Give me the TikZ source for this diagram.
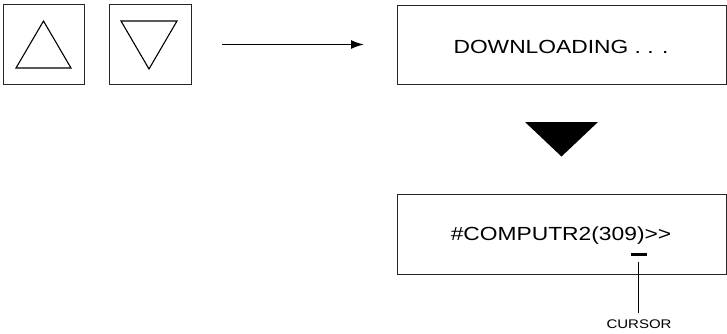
\documentclass[tikz,border=0pt]{standalone}
\usepackage{fontspec}
\setmainfont{Liberation Sans}
\usetikzlibrary{arrows.meta}
\tikzset{
  panel/.style={draw=black!85, line width=1pt, inner sep=0pt, anchor=north west},
  bigtext/.style={font=\fontsize{19}{22}\selectfont, xscale=1.2, transform shape=false},
  glyph/.style={draw=black, line width=1.1pt, line join=miter},
}
\newcommand{\wide}[1]{\scalebox{1.2}[1]{#1}}
\begin{document}
\begin{tikzpicture}[x=1pt,y=-1pt]
\useasboundingbox (0,0) rectangle (727,333);
% key boxes
\node[panel, minimum width=81pt, minimum height=80pt] (up) at (3,4) {};
\node[panel, minimum width=82pt, minimum height=80pt] (down) at (109,4) {};
\draw[glyph] (16,68) -- (43.5,21) -- (71,68) -- cycle;
\draw[glyph] (121,21) -- (177,21) -- (149,69) -- cycle;
% display boxes
\node[panel, minimum width=329pt, minimum height=79pt] (dl) at (397,5) {};
\node[panel, minimum width=329pt, minimum height=80pt] (cmd) at (397,194) {};
\node at (561,47) {\fontsize{19}{22}\selectfont\wide{DOWNLOADING . . .}};
\node at (561,236) {\fontsize{19}{22}\selectfont\wide{\#COMPUTR2(309)>{}>}};
% arrow
\draw[line width=1.6pt, -{Latex[length=13pt,width=9pt]}, shorten <=30pt, shorten >=33pt] (down.east) -- (dl.west |- down.east);
% big filled down triangle
\fill[black] (525,122) -- (598,122) -- (561.5,156.5) -- cycle;
% cursor
\fill[black] (631,252.5) rectangle (647,255.7);
\coordinate (bar) at (638.5,262);
\node[inner sep=0pt] (cur) at (639,324.5) {\fontsize{12.5}{14}\selectfont\wide{CURSOR}};
\draw[line width=1pt] (bar) -- (638.5,313);
\end{tikzpicture}
\end{document}
